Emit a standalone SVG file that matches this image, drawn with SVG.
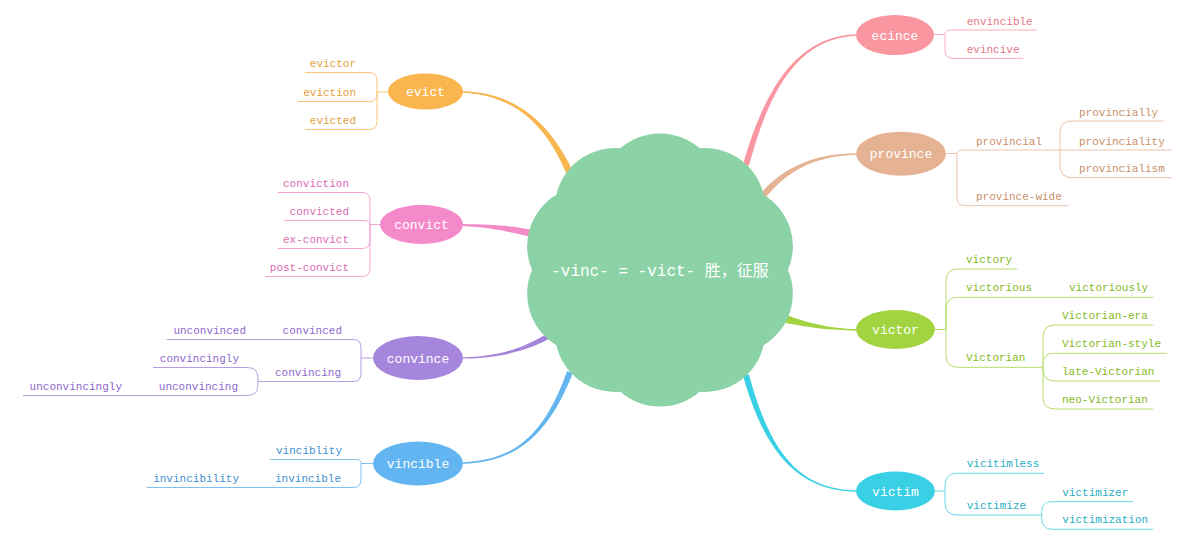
<svg xmlns="http://www.w3.org/2000/svg" width="1194" height="540" viewBox="0 0 1194 540">
<style>
text{font-family:"Liberation Mono","DejaVu Sans Mono","Noto Sans CJK SC",monospace;}
.lbl{font-size:11px;}
.nt{font-size:13px;fill:#fff;text-anchor:middle;}
.br{fill:none;stroke-width:1;}
.end{text-anchor:end;}
.o .br{stroke:#F8C676}.o text.lbl{fill:#E3A03A}
.p .br{stroke:#F5A6D4}.p text.lbl{fill:#DB6BB0}
.u .br{stroke:#B59DE3}.u text.lbl{fill:#8C68CC}
.b .br{stroke:#80C1F0}.b text.lbl{fill:#3E8FD0}
.r .br{stroke:#F7AEB6}.r text.lbl{fill:#E27784}
.t .br{stroke:#EBC3AA}.t text.lbl{fill:#C98F6B}
.g .br{stroke:#B6DD6C}.g text.lbl{fill:#86B925}
.c .br{stroke:#6CD9EA}.c text.lbl{fill:#1FAEC4}
</style>
<rect width="1194" height="540" fill="#fff"/>
<g id="connectors">
<path fill="#F8B64E" d="M463,91.3 C520,92.5 554.6,128.9 575.2,176.7 L568.8,179.3 C549.4,131.1 520,95.5 463,92.7 Z"/>
<path fill="#F48AC8" d="M463,224 C490,224.5 505,225 530,229.5 L530,236.5 C505,231 490,227.5 463,226 Z"/>
<path fill="#A685DC" d="M463,357.4 C500,356.2 524,348.3 550.5,331.4 L553.5,336.6 C526,351.7 500,357.8 463,358.6 Z"/>
<path fill="#62B5EF" d="M463,462.3 C520,459.8 545.9,429.2 567.2,370.9 L572.8,373.1 C550.1,430.8 520,462.2 463,463.7 Z"/>
<path fill="#F996A1" d="M856,34.3 C800,35.8 765.6,84.3 743.1,164.2 L748.9,165.8 C770.4,85.7 800,38.2 856,35.7 Z"/>
<path fill="#E5B293" d="M856,153.3 C815,153.8 779.7,166.4 753.1,203 L758.9,207 C784.3,169.6 815,156.2 856,154.7 Z"/>
<path fill="#A1D440" d="M856,329.3 C830,328 810.6,324 787.1,315.2 L784.9,322.8 C809.4,328 830,330 856,330.7 Z"/>
<path fill="#39D0E5" d="M856,490.3 C800,489.2 770.4,454.3 748.9,374.2 L743.1,375.8 C765.6,455.7 800,490.8 856,491.7 Z"/>
</g>
<g id="center">
<path fill="#8BD3A7" d="M788,270 A60,60 0 0 1 763.6,345.2 A60,60 0 0 1 699.6,391.7 A60,60 0 0 1 620.4,391.7 A60,60 0 0 1 556.4,345.2 A60,60 0 0 1 532,270 A60,60 0 0 1 556.4,194.8 A60,60 0 0 1 620.4,148.3 A60,60 0 0 1 699.6,148.3 A60,60 0 0 1 763.6,194.8 A60,60 0 0 1 788,270 Z"/>
<text x="660" y="276" font-size="16" fill="#fff" text-anchor="middle">-vinc- = -vict- 胜，征服</text>
</g>
<g id="evict" class="o">
<ellipse cx="425.5" cy="91.5" rx="37.5" ry="18" fill="#F9B64F"/>
<text class="nt" x="425.5" y="96">evict</text>
<path class="br" d="M388,92 H377 M377,92 V80.5 Q377,72.5 369,72.5 H305 M377,92 C377,98 376,101.5 369,101.5 H298 M377,92 V121.5 Q377,129.5 369,129.5 H305"/>
<text class="lbl end" x="356" y="66.5">evictor</text>
<text class="lbl end" x="356" y="95.5">eviction</text>
<text class="lbl end" x="356" y="123.5">evicted</text>
</g>
<g id="convict" class="p">
<ellipse cx="421.5" cy="224.5" rx="41.5" ry="19.5" fill="#F48AC9"/>
<text class="nt" x="421.5" y="229">convict</text>
<path class="br" d="M380,224.5 H370 M370,224.5 V200.5 Q370,192.5 362,192.5 H277.7 M370,224.5 C370,222 368,220.5 362,220.5 H284 M370,224.5 V240.5 Q370,248.5 362,248.5 H277.7 M370,224.5 V268.5 Q370,276.5 362,276.5 H265"/>
<text class="lbl end" x="349" y="186.5">conviction</text>
<text class="lbl end" x="349" y="214.5">convicted</text>
<text class="lbl end" x="349" y="242.5">ex-convict</text>
<text class="lbl end" x="349" y="270.5">post-convict</text>
</g>
<g id="convince" class="u">
<ellipse cx="418" cy="358" rx="45" ry="22" fill="#A686DC"/>
<text class="nt" x="418" y="362.5">convince</text>
<path class="br" d="M372.7,358 H361 M361,358 V347.5 Q361,339.5 353,339.5 H166.7 M361,358 V373.5 Q361,381.5 353,381.5 H258 M258,381.5 C258,371 256,367.5 245,367.5 H153 M258,381.5 C258,392 256,395.5 245,395.5 H23"/>
<text class="lbl end" x="342" y="333.5">convinced</text>
<text class="lbl end" x="246" y="333.5">unconvinced</text>
<text class="lbl end" x="341" y="375.5">convincing</text>
<text class="lbl end" x="239" y="361.5">convincingly</text>
<text class="lbl end" x="238" y="389.5">unconvincing</text>
<text class="lbl end" x="122" y="389.5">unconvincingly</text>
</g>
<g id="vincible" class="b">
<ellipse cx="418" cy="463.5" rx="45" ry="22" fill="#62B5F0"/>
<text class="nt" x="418" y="468">vincible</text>
<path class="br" d="M372.7,463.5 H361 M361,463.5 C361,460.5 359,459.5 355,459.5 H270 M361,463.5 V479.5 Q361,487.5 353,487.5 H146.7"/>
<text class="lbl end" x="342" y="453.5">vinciblity</text>
<text class="lbl end" x="341" y="481.5">invincible</text>
<text class="lbl end" x="239" y="481.5">invincibility</text>
</g>
<g id="ecince" class="r">
<ellipse cx="895" cy="35" rx="39" ry="20" fill="#F996A0"/>
<text class="nt" x="895" y="39.5">ecince</text>
<path class="br" d="M934,34.5 H945 M945,34.5 C945,31.5 947,30 953,30 H1036.7 M945,34.5 V50.3 Q945,58.3 953,58.3 H1023.3"/>
<text class="lbl" x="966.7" y="24.5">envincible</text>
<text class="lbl" x="966.7" y="52.5">evincive</text>
</g>
<g id="province" class="t">
<ellipse cx="901" cy="153.7" rx="45" ry="22" fill="#E5B294"/>
<text class="nt" x="901" y="158.2">province</text>
<path class="br" d="M946,153.5 H957 M957,153.5 C957,151 959,150 964,150 H1172 M957,153.5 V197.7 Q957,205.7 965,205.7 H1068.3 M1060,150 V133 Q1060,121 1072,121 H1164 M1060,150 V165.7 Q1060,177.7 1072,177.7 H1172"/>
<text class="lbl" x="976" y="144.5">provincial</text>
<text class="lbl" x="976" y="200">province-wide</text>
<text class="lbl" x="1079" y="115.5">provincially</text>
<text class="lbl" x="1079" y="144.5">provinciality</text>
<text class="lbl" x="1079" y="172">provincialism</text>
</g>
<g id="victor" class="g">
<ellipse cx="895.5" cy="329.5" rx="39.5" ry="19.5" fill="#A1D440"/>
<text class="nt" x="895.5" y="334">victor</text>
<path class="br" d="M935,329.5 H946 M946,329.5 V281 Q946,269 958,269 H1017.3 M946,329.5 V309.3 Q946,297.3 958,297.3 H1153.3 M946,329.5 V355.3 Q946,367.3 958,367.3 H1043 M1043,367.3 V337 Q1043,325 1055,325 H1153.3 M1043,367.3 C1043,357 1045,353.3 1055,353.3 H1167.3 M1043,367.3 V369 Q1043,381 1055,381 H1160 M1043,367.3 V397 Q1043,409 1055,409 H1153.3"/>
<text class="lbl" x="966" y="263">victory</text>
<text class="lbl" x="966" y="291.3">victorious</text>
<text class="lbl" x="1069" y="291.3">victoriously</text>
<text class="lbl" x="966" y="361.3">Victorian</text>
<text class="lbl" x="1062" y="319">Victorian-era</text>
<text class="lbl" x="1062" y="347.3">Victorian-style</text>
<text class="lbl" x="1062" y="375">late-Victorian</text>
<text class="lbl" x="1062" y="403">neo-Victorian</text>
</g>
<g id="victim" class="c">
<ellipse cx="895.5" cy="491" rx="39.5" ry="19.5" fill="#39D0E5"/>
<text class="nt" x="895.5" y="495.5">victim</text>
<path class="br" d="M935,491 H945 M945,491 V485.3 Q945,473.3 957,473.3 H1044 M945,491 V503 Q945,515 957,515 H1041.7 M1041.7,515 C1041.7,505 1044,501.7 1053,501.7 H1133.3 M1041.7,515 C1041.7,525 1044,529.3 1053,529.3 H1153.3"/>
<text class="lbl" x="966.7" y="467.3">vicitimless</text>
<text class="lbl" x="966.7" y="509">victimize</text>
<text class="lbl" x="1062.3" y="495.7">victimizer</text>
<text class="lbl" x="1062.3" y="523.3">victimization</text>
</g>
</svg>
